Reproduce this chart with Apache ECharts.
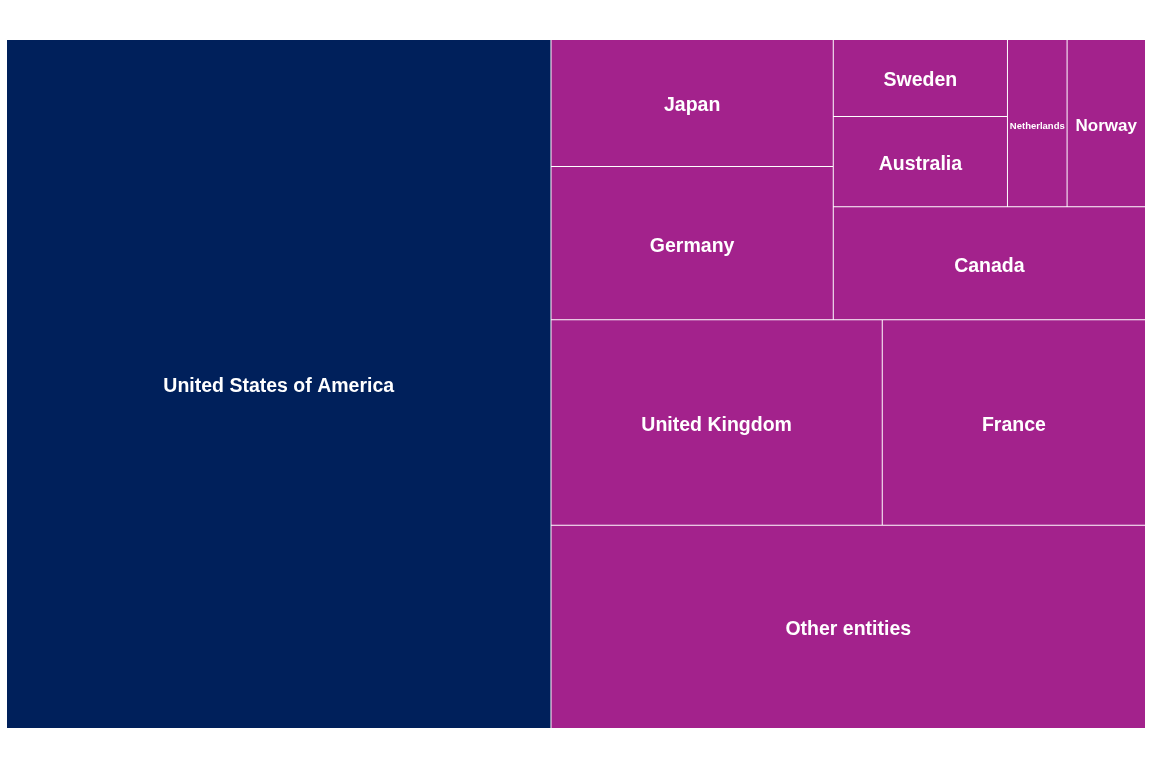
<!DOCTYPE html>
<html>
<head>
<meta charset="utf-8">
<script src="https://cdn.jsdelivr.net/npm/echarts@6/dist/echarts.min.js"></script>
<style>
  html, body { margin: 0; padding: 0; background: #ffffff; }
  #chart { width: 1152px; height: 768px; }
</style>
</head>
<body>
<div id="chart"></div>
<script>
// Data (share, %)
const countries = [
  'United States of America', 'Other entities', 'United Kingdom', 'France',
  'Germany', 'Japan', 'Canada', 'Australia', 'Sweden', 'Norway', 'Netherlands'
];
const values = [47.80, 15.40, 8.67, 6.89, 5.51, 4.57, 4.50, 2.00, 1.71, 1.67, 1.27];
const highlighted = 'United States of America';

// Grouping of the cells (structure only) so the library's squarify layout
// reproduces the arrangement of the reference.
const grouping = [
  'United States of America',
  [
    [
      [
        ['Japan', 'Germany'],
        [
          [['Sweden', 'Australia'], ['Netherlands', 'Norway']],
          'Canada'
        ]
      ],
      ['United Kingdom', 'France']
    ],
    'Other entities'
  ]
];

const NAVY = '#00205b';
const MAGENTA = '#a3228c';
const BASE_FONT = 19.5;
// narrow cells: shrink the label so the whole name stays readable
const smallLabel = {
  'Netherlands': { fontSize: 9.5, overflow: 'none' },
  'Norway': { fontSize: 17 }
};

function build(node) {
  if (typeof node === 'string') {
    const item = {
      name: node,
      value: values[countries.indexOf(node)],
      itemStyle: { color: node === highlighted ? NAVY : MAGENTA }
    };
    if (smallLabel[node]) item.label = smallLabel[node];
    return item;
  }
  const children = node.map(build);
  const sum = children.reduce((s, c) => s + c.value, 0);
  return { name: '', value: sum, children: children };
}

const treeData = build(grouping).children;

const chart = echarts.init(document.getElementById('chart'), null, { renderer: 'canvas' });
chart.setOption({
  animation: false,
  series: [{
    type: 'treemap',
    left: 7, top: 40, right: 7, bottom: 40,
    roam: false,
    nodeClick: false,
    sort: false,
    squareRatio: 1.54,
    breadcrumb: { show: false },
    upperLabel: { show: false },
    label: {
      show: true,
      position: 'inside',
      offset: [0, 3],
      color: '#ffffff',
      fontWeight: 'bold',
      fontSize: BASE_FONT,
      fontFamily: '"Liberation Sans", Arial, sans-serif',
      overflow: 'truncate'
    },
    itemStyle: { borderWidth: 0, gapWidth: 1, borderColor: '#ffffff' },
    emphasis: { disabled: true },
    data: treeData
  }]
});
</script>
</body>
</html>
